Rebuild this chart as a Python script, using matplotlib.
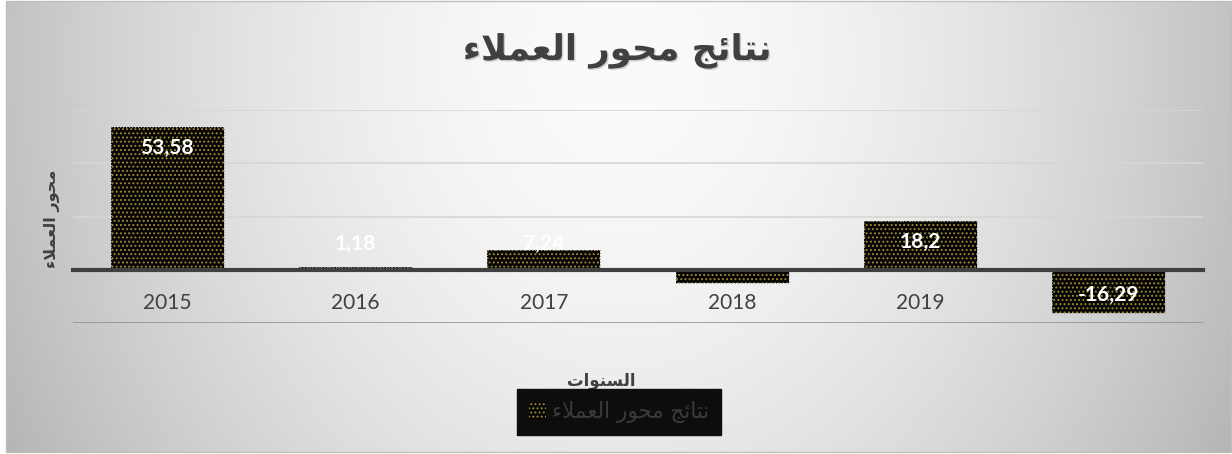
import numpy as np
import matplotlib
matplotlib.use("Agg")
import matplotlib.pyplot as plt
from matplotlib.patches import Rectangle
import matplotlib.patheffects as pe

# ---------------- data ----------------
categories = ["2015", "2016", "2017", "2018", "2019", ""]
values = [53.58, 1.18, 7.24, -4.87, 18.2, -16.29]
value_labels = ["53,58", "1,18", "7,24", "", "18,2", "-16,29"]
title_text = "نتائج محور العملاء"
series_name = "نتائج محور العملاء"
y_label_text = "محور العملاء"
x_label_text = "السنوات"
y_ticks = [-20, 0, 20, 40, 60]

# ------------- Arabic shaping (presentation forms, visual order) -------------
FORMS = {
    'ا': ('\uFE8D', '\uFE8E', None, None),
    'ء': ('\uFE80', None, None, None),
    'ت': ('\uFE95', '\uFE96', '\uFE97', '\uFE98'),
    'ج': ('\uFE9D', '\uFE9E', '\uFE9F', '\uFEA0'),
    'ح': ('\uFEA1', '\uFEA2', '\uFEA3', '\uFEA4'),
    'ر': ('\uFEAD', '\uFEAE', None, None),
    'س': ('\uFEB1', '\uFEB2', '\uFEB3', '\uFEB4'),
    'ع': ('\uFEC9', '\uFECA', '\uFECB', '\uFECC'),
    'ل': ('\uFEDD', '\uFEDE', '\uFEDF', '\uFEE0'),
    'م': ('\uFEE1', '\uFEE2', '\uFEE3', '\uFEE4'),
    'ن': ('\uFEE5', '\uFEE6', '\uFEE7', '\uFEE8'),
    'و': ('\uFEED', '\uFEEE', None, None),
    'ئ': ('\uFE89', '\uFE8A', '\uFE8B', '\uFE8C'),
}
LAM_ALEF = ('\uFEFB', '\uFEFC')


def shape(text):
    toks, i = [], 0
    while i < len(text):
        if text[i] == 'ل' and i + 1 < len(text) and text[i + 1] == 'ا':
            toks.append('لا'); i += 2
        else:
            toks.append(text[i]); i += 1

    def jn(t):
        if t == 'لا':
            return False
        f = FORMS.get(t)
        return f is not None and f[2] is not None

    def jpv(t):
        if t == 'لا':
            return True
        f = FORMS.get(t)
        return f is not None and f[1] is not None

    out = []
    for k, t in enumerate(toks):
        if t not in FORMS and t != 'لا':
            out.append(t); continue
        prev = toks[k - 1] if k > 0 else None
        nxt = toks[k + 1] if k + 1 < len(toks) else None
        a = prev is not None and jn(prev) and jpv(t)
        b = nxt is not None and jn(t) and jpv(nxt)
        if t == 'لا':
            out.append(LAM_ALEF[1] if a else LAM_ALEF[0]); continue
        iso, fin, ini, med = FORMS[t]
        out.append(med if (a and b) else fin if a else ini if b else iso)
    return ''.join(reversed(out))


W, H = 1232, 454
fig = plt.figure(figsize=(W / 100, H / 100), dpi=100)
fig.patch.set_facecolor("white")

# background gradient for the chart area
bg = fig.add_axes([0, 0, 1, 1], zorder=-10)
bg.set_xlim(0, W); bg.set_ylim(H, 0); bg.axis("off")
xx, yy = np.meshgrid(np.arange(W), np.arange(H))
d = np.sqrt(((xx - 616) / 640.0) ** 2 + ((yy - 60) / 760.0) ** 2)
inten = np.clip(251 - 60 * d ** 1.7, 0, 255) / 255.0
img = np.dstack([inten, inten, inten])
bg.imshow(img, extent=(6, 1231, 452, 1), aspect="auto", interpolation="bilinear")
bg.add_patch(Rectangle((6, 1), 1225, 451, fill=False, ec="#bfbfbf", lw=1))

# plot axes
ax = fig.add_axes([73 / W, 1 - 323 / H, (1203 - 73) / W, (323 - 110) / H])
ax.set_facecolor("none")
x = np.arange(len(categories))
ax.set_xlim(-0.5, len(categories) - 0.5)
ax.set_ylim(y_ticks[0], y_ticks[-1])

plt.rcParams["hatch.linewidth"] = 0.9
bars = ax.bar(x, values, width=0.6, color="#050505", edgecolor="#a08a32",
              hatch="....", linewidth=0, zorder=3, label=shape(series_name))
ax.bar(x, values, width=0.6, facecolor="none", edgecolor="#9a9a9a",
       linewidth=0.8, linestyle=":", zorder=4)

ax.set_yticks(y_ticks)
ax.set_yticklabels([])
ax.tick_params(axis="y", length=0)
ax.yaxis.grid(True, color="#d6d6d6", linewidth=1.2, zorder=0)
for tick_val, gl in zip(y_ticks, ax.yaxis.get_gridlines()):
    if tick_val == y_ticks[0]:
        gl.set_color("#8c8c8c"); gl.set_linewidth(1.8)
ax.set_axisbelow(True)

for s in ["top", "right", "left"]:
    ax.spines[s].set_visible(False)
ax.spines["bottom"].set_position(("data", 0))
ax.spines["bottom"].set_color("#404040")
ax.spines["bottom"].set_linewidth(3)
ax.spines["bottom"].set_zorder(5)
ax.set_xticks(x)
ax.set_xticklabels(categories, fontsize=15, color="#404040", family="Lato")
ax.tick_params(axis="x", length=0, pad=17)

# data labels
for xi, v, lab in zip(x, values, value_labels):
    yl = np.sign(v) * max(abs(v) - 7.8, 9.6)
    ax.text(xi, yl, lab, ha="center", va="center", color="white",
            fontsize=15, fontweight="bold", family="Lato", zorder=6)

# title & axis titles
fig.text(617 / W, 1 - 51 / H, shape(title_text), ha="center", va="center",
         fontsize=25.5, fontweight="bold", color="#404040", family="DejaVu Sans",
         path_effects=[pe.withSimplePatchShadow(offset=(1, -1), shadow_rgbFace="#b0b0b0", alpha=0.6)])
fig.text(52 / W, 1 - 219 / H, shape(y_label_text), ha="center", va="center",
         rotation=90, fontsize=11.5, fontweight="bold", color="#404040", family="DejaVu Sans")
fig.text(601 / W, 1 - 381 / H, shape(x_label_text), ha="center", va="center",
         fontsize=12, fontweight="bold", color="#404040", family="DejaVu Sans")

# legend
leg = fig.legend(handles=[bars], labels=[shape(series_name)], loc="center",
                 bbox_to_anchor=(619 / W, 1 - 412 / H), frameon=True,
                 facecolor="#0d0d0d", edgecolor="#0d0d0d", framealpha=1,
                 fancybox=False, handlelength=0.8, handleheight=0.8,
                 handletextpad=0.3, borderpad=0.55, borderaxespad=0,
                 prop={"family": "DejaVu Sans", "size": 15.5})
for t in leg.get_texts():
    t.set_color("#3a3a3a")

fig.savefig("out.png", dpi=100)
